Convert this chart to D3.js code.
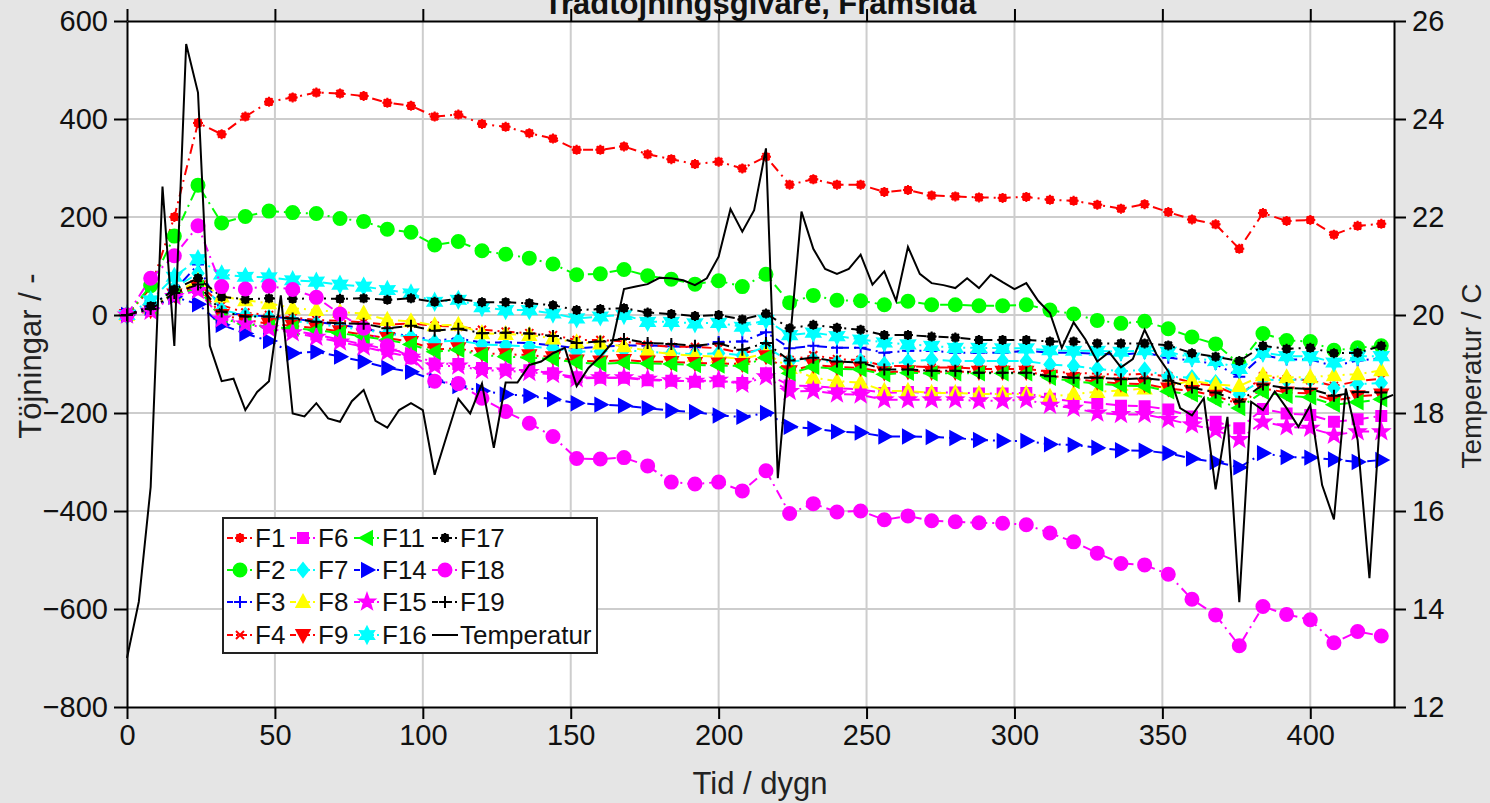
<!DOCTYPE html>
<html>
<head>
<meta charset="utf-8">
<script src="https://cdn.jsdelivr.net/npm/d3@7"></script>
<style>
body { margin: 0; background: #e5e5e5; }
svg { display: block; font-family: "Liberation Sans", Arial, sans-serif; }
</style>
</head>
<body>
<svg width="1490" height="803"></svg>
<script>
// mätdagar för töjningsgivarna
const days = [0,8,16,24,32,40,48,56,64,72,80,88,96,104,112,120,128,136,144,152,160,168,176,184,192,200,208,216,224,232,240,248,256,264,272,280,288,296,304,312,320,328,336,344,352,360,368,376,384,392,400,408,416,424];

const F1 = [0,55,200,392,369,405,435,444,454,452,447,433,427,405,409,390,384,371,360,337,337,344,328,318,308,313,299,323,266,277,266,266,251,255,244,242,240,239,241,235,233,225,217,226,210,195,185,135,208,192,194,164,182,186];
const F2 = [0,60,161,265,188,201,212,209,207,197,191,175,169,143,150,131,124,116,104,82,84,93,80,73,63,70,58,83,25,40,30,29,21,28,21,21,19,19,21,10,2,-11,-17,-13,-28,-45,-59,-100,-38,-52,-54,-72,-67,-63];
const F3 = [0,20,50,103,5,0,-3,-7,-14,-20,-27,-38,-42,-52,-48,-56,-56,-57,-62,-68,-65,-62,-62,-64,-66,-55,-54,-35,-68,-63,-67,-67,-77,-73,-73,-77,-77,-77,-73,-77,-77,-79,-81,-77,-87,-93,-100,-126,-82,-91,-91,-104,-93,-88];
const F4 = [0,12,45,65,20,5,0,-5,-10,-12,-15,-20,-17,-22,-24,-30,-34,-37,-41,-51,-51,-54,-61,-65,-65,-68,-78,-68,-92,-82,-90,-92,-104,-104,-107,-107,-110,-110,-110,-116,-118,-120,-122,-120,-125,-138,-145,-165,-125,-131,-133,-145,-135,-130];
const F6 = [0,10,42,55,-5,-15,-25,-32,-40,-50,-60,-70,-78,-99,-100,-108,-111,-113,-119,-127,-128,-128,-133,-134,-136,-135,-139,-119,-144,-145,-149,-152,-159,-157,-159,-158,-160,-160,-159,-171,-176,-180,-185,-186,-193,-207,-218,-231,-192,-201,-204,-218,-213,-206];
const F7 = [0,15,55,85,10,0,-5,-12,-18,-25,-30,-38,-45,-55,-52,-60,-62,-64,-68,-75,-74,-72,-75,-78,-80,-78,-82,-65,-95,-91,-97,-94,-101,-95,-91,-94,-94,-94,-94,-101,-104,-110,-115,-112,-126,-128,-138,-162,-132,-133,-131,-149,-141,-139];
const F8 = [0,15,45,70,38,30,24,14,10,6,3,-10,-13,-21,-20,-37,-39,-41,-48,-56,-58,-64,-73,-80,-83,-85,-90,-78,-108,-128,-135,-138,-155,-155,-159,-159,-161,-161,-161,-167,-161,-157,-154,-150,-145,-134,-142,-145,-123,-127,-127,-123,-121,-113];
const F9 = [0,10,42,58,0,-10,-18,-22,-27,-33,-40,-47,-55,-70,-68,-78,-80,-82,-86,-93,-95,-92,-95,-96,-98,-99,-100,-84,-115,-102,-106,-108,-117,-115,-116,-116,-116,-116,-116,-124,-130,-136,-140,-141,-150,-155,-165,-182,-150,-158,-160,-175,-166,-162];
const F11 = [0,10,40,55,-8,-18,-25,-27,-31,-37,-44,-51,-60,-75,-71,-82,-85,-87,-90,-97,-100,-97,-99,-100,-102,-103,-104,-87,-119,-106,-110,-111,-121,-118,-119,-119,-119,-119,-119,-128,-135,-140,-144,-145,-156,-162,-173,-190,-157,-165,-168,-183,-178,-172];
const F14 = [0,15,37,22,-20,-38,-53,-78,-75,-85,-95,-108,-116,-133,-145,-155,-162,-165,-172,-180,-183,-185,-190,-195,-198,-205,-208,-200,-228,-232,-238,-240,-248,-248,-249,-251,-255,-257,-257,-264,-265,-271,-276,-277,-282,-293,-300,-311,-282,-290,-291,-295,-300,-296];
const F15 = [0,8,38,50,-8,-18,-28,-36,-45,-55,-65,-76,-86,-104,-104,-113,-114,-117,-121,-130,-128,-128,-131,-134,-135,-133,-141,-126,-156,-155,-161,-163,-173,-173,-173,-173,-175,-175,-173,-184,-190,-200,-203,-203,-213,-224,-235,-254,-218,-228,-231,-245,-238,-238];
const F16 = [0,30,78,114,83,78,77,71,68,62,58,51,44,27,31,16,10,10,3,-7,-3,0,-14,-14,-17,-16,-24,-10,-41,-36,-43,-50,-56,-60,-63,-67,-67,-68,-68,-72,-73,-73,-75,-72,-75,-87,-94,-110,-77,-84,-84,-97,-84,-84];
const F17 = [0,18,52,75,37,32,34,33,34,33,34,31,34,27,33,26,26,24,20,10,12,14,5,2,-2,0,-9,3,-27,-20,-26,-30,-41,-41,-44,-46,-51,-51,-51,-54,-54,-58,-58,-58,-62,-78,-85,-94,-63,-69,-67,-78,-77,-63];
const F18 = [0,75,121,182,58,53,59,52,36,2,-27,-63,-86,-135,-140,-170,-197,-221,-248,-293,-294,-291,-308,-341,-345,-341,-359,-318,-405,-385,-402,-400,-418,-410,-420,-422,-424,-425,-428,-445,-463,-486,-507,-510,-529,-580,-612,-675,-595,-611,-622,-669,-646,-655];
const F19 = [0,12,45,62,7,-3,-3,-7,-14,-17,-18,-27,-22,-32,-28,-37,-36,-38,-43,-57,-54,-49,-57,-59,-63,-58,-71,-57,-93,-87,-95,-97,-111,-111,-114,-114,-118,-118,-118,-125,-128,-128,-131,-129,-134,-148,-158,-177,-142,-149,-151,-165,-157,-158];

// temperatur, var fjärde dag
const tempDays = [0,4,8,12,16,20,24,28,32,36,40,44,48,52,56,60,64,68,72,76,80,84,88,92,96,100,104,108,112,116,120,124,128,132,136,140,144,148,152,156,160,164,168,172,176,180,184,188,192,196,200,204,208,212,216,220,224,228,232,236,240,244,248,252,256,260,264,268,272,276,280,284,288,292,296,300,304,308,312,316,320,324,328,332,336,340,344,348,352,356,360,364,368,372,376,380,384,388,392,396,400,404,408,412,416,420,424,428];
const temperatur = [13.0,14.15,16.49,22.62,19.37,25.53,24.54,19.37,18.65,18.7,
  18.06,18.43,18.65,20.4,17.99,17.93,18.2,17.89,17.82,18.24,
  18.47,17.84,17.7,18.06,18.2,18.06,16.74,17.52,18.29,17.99,
  18.6,17.29,18.62,18.62,18.98,19.05,19.22,19.33,18.55,18.92,
  19.15,19.43,20.53,20.58,20.63,20.76,20.75,20.71,20.61,20.75,
  21.19,22.16,21.7,22.14,23.4,16.67,19.4,22.11,21.35,20.94,
  20.84,20.94,21.23,20.62,20.89,20.29,21.39,20.84,20.65,20.61,
  20.55,20.75,20.55,20.82,20.67,20.53,20.65,20.29,20.04,19.33,
  19.85,19.5,19.05,19.24,18.93,19.1,19.7,19.2,18.85,18.1,
  17.95,18.3,16.44,17.92,14.14,18.23,18.06,18.44,18.1,17.72,
  18.16,16.53,15.83,18.5,17.45,14.63,18.27,18.37];

const xTicks = [0,50,100,150,200,250,300,350,400];
const yTicks = [-800,-600,-400,-200,0,200,400,600];
const tTicks = [12,14,16,18,20,22,24,26];

const series = [
  {name: "F1",  values: F1,  color: "#ff0000", marker: "asterisk"},
  {name: "F2",  values: F2,  color: "#00ff00", marker: "circle"},
  {name: "F3",  values: F3,  color: "#0000ff", marker: "plus"},
  {name: "F4",  values: F4,  color: "#ff0000", marker: "cross"},
  {name: "F6",  values: F6,  color: "#ff00ff", marker: "square"},
  {name: "F7",  values: F7,  color: "#00ffff", marker: "diamond"},
  {name: "F8",  values: F8,  color: "#ffff00", marker: "up"},
  {name: "F9",  values: F9,  color: "#ff0000", marker: "down"},
  {name: "F11", values: F11, color: "#00ff00", marker: "left"},
  {name: "F14", values: F14, color: "#0000ff", marker: "right"},
  {name: "F15", values: F15, color: "#ff00ff", marker: "pentagram"},
  {name: "F16", values: F16, color: "#00ffff", marker: "hexagram"},
  {name: "F17", values: F17, color: "#000000", marker: "asterisk"},
  {name: "F18", values: F18, color: "#ff00ff", marker: "circle"},
  {name: "F19", values: F19, color: "#000000", marker: "plus"}
];

var svg = d3.select("svg"),
    pLeft = 127, pRight = 1394, pTop = 21, pBottom = 707;

var x = d3.scaleLinear().domain([0, 428.3]).range([pLeft, pRight]);
var y = d3.scaleLinear().domain([-800, 600]).range([pBottom, pTop]);
var yT = d3.scaleLinear().domain([12, 26]).range([pBottom, pTop]);

function starPath(n, ro, ri) {
  var pts = [];
  for (var i = 0; i < 2 * n; i++) {
    var r = i % 2 ? ri : ro, a = i * Math.PI / n;
    pts.push(r * Math.sin(a) + "," + (-r * Math.cos(a)));
  }
  return "M" + pts.join("L") + "Z";
}

var markers = {
  circle:    {d: "M6.5,0A6.5,6.5 0 1,1 -6.5,0A6.5,6.5 0 1,1 6.5,0Z", fill: true},
  square:    {d: "M-5,-5H5V5H-5Z", fill: true},
  diamond:   {d: "M0,-7L5.5,0L0,7L-5.5,0Z", fill: true},
  up:        {d: "M0,-7L6.5,5L-6.5,5Z", fill: true},
  down:      {d: "M0,7L6.5,-5L-6.5,-5Z", fill: true},
  left:      {d: "M-7,0L5,-6.5L5,6.5Z", fill: true},
  right:     {d: "M7,0L-5,-6.5L-5,6.5Z", fill: true},
  pentagram: {d: starPath(5, 8, 3.3), fill: true},
  hexagram:  {d: starPath(6, 8, 4.4), fill: true},
  plus:      {d: "M-6,0H6M0,-6V6", fill: false},
  cross:     {d: "M-4,-4L4,4M-4,4L4,-4", fill: false},
  asterisk:  {d: "M-5,0H5M0,-5V5M-3.6,-3.6L3.6,3.6M-3.6,3.6L3.6,-3.6M3.4,0A3.4,3.4 0 1,1 -3.4,0A3.4,3.4 0 1,1 3.4,0Z", fill: true}
};

function drawMarker(g, type, color, cx, cy) {
  var m = markers[type];
  g.append("path")
    .attr("d", m.d)
    .attr("transform", "translate(" + cx + "," + cy + ")")
    .attr("fill", m.fill ? color : "none")
    .attr("stroke", color)
    .attr("stroke-width", 2);
}

// plotyta
svg.append("rect")
  .attr("x", pLeft).attr("y", pTop)
  .attr("width", pRight - pLeft).attr("height", pBottom - pTop)
  .attr("fill", "#ffffff");

// rutnät
var grid = svg.append("g").attr("stroke", "#cdcdcd").attr("stroke-width", 2);
xTicks.filter(function(d) { return d > 0; }).forEach(function(d) {
  grid.append("line").attr("x1", x(d)).attr("x2", x(d)).attr("y1", pTop).attr("y2", pBottom);
});
yTicks.filter(function(d) { return d > -800 && d < 600; }).forEach(function(d) {
  grid.append("line").attr("x1", pLeft).attr("x2", pRight).attr("y1", y(d)).attr("y2", y(d));
});

// töjningsserier
var dashLine = d3.line().x(function(d) { return x(d[0]); }).y(function(d) { return y(d[1]); });
var plot = svg.append("g");
series.forEach(function(s) {
  var pts = days.map(function(d, i) { return [d, s.values[i]]; });
  plot.append("path")
    .attr("d", dashLine(pts))
    .attr("fill", "none")
    .attr("stroke", s.color)
    .attr("stroke-width", 2)
    .attr("stroke-dasharray", "10,5,2,5");
  var mg = plot.append("g");
  pts.forEach(function(p) { drawMarker(mg, s.marker, s.color, x(p[0]), y(p[1])); });
});

// temperatur på högra axeln
var tempLine = d3.line().x(function(d, i) { return x(tempDays[i]); }).y(function(d) { return yT(d); });
svg.append("path")
  .attr("d", tempLine(temperatur))
  .attr("fill", "none")
  .attr("stroke", "#000000")
  .attr("stroke-width", 2);

// axlar
function styleAxis(g) {
  g.attr("font-family", null).attr("font-size", null);
  g.select(".domain").attr("stroke", "#000").attr("stroke-width", 2);
  g.selectAll(".tick line").attr("stroke", "#000").attr("stroke-width", 2);
  g.selectAll(".tick text").attr("fill", "#111").style("font-size", "29px");
}
svg.append("g").attr("transform", "translate(0," + pBottom + ")")
  .call(d3.axisBottom(x).tickValues(xTicks).tickSize(12).tickSizeOuter(0).tickPadding(5))
  .call(styleAxis);
svg.append("g").attr("transform", "translate(0," + pTop + ")")
  .call(d3.axisTop(x).tickValues(xTicks).tickSize(12).tickSizeOuter(0).tickFormat(""))
  .call(styleAxis);
svg.append("g").attr("transform", "translate(" + pLeft + ",0)")
  .call(d3.axisLeft(y).tickValues(yTicks).tickSize(13).tickSizeOuter(0).tickPadding(6))
  .call(styleAxis);
svg.append("g").attr("transform", "translate(" + pRight + ",0)")
  .call(d3.axisRight(yT).tickValues(tTicks).tickSize(12).tickSizeOuter(0).tickPadding(6))
  .call(styleAxis);

// axeltexter och rubrik
svg.append("text").attr("x", 760).attr("y", 14).attr("text-anchor", "middle")
  .attr("font-size", 31).attr("font-weight", "bold").attr("fill", "#111")
  .text("Trädtöjningsgivare, Framsida");
svg.append("text").attr("x", 760).attr("y", 794).attr("text-anchor", "middle")
  .attr("font-size", 31).attr("fill", "#222").text("Tid / dygn");
svg.append("text").attr("transform", "translate(41,356) rotate(-90)").attr("text-anchor", "middle")
  .attr("font-size", 31).attr("fill", "#222").text("Töjningar / -");
svg.append("text").attr("transform", "translate(1481,376) rotate(-90)").attr("text-anchor", "middle")
  .attr("font-size", 28).attr("fill", "#222").text("Temperatur / C");

// legend
var legend = svg.append("g");
legend.append("rect").attr("x", 223).attr("y", 518).attr("width", 374).attr("height", 135)
  .attr("fill", "#fff").attr("stroke", "#222").attr("stroke-width", 2);
var colX = [227, 290, 354, 432], rowY = [538, 570, 602, 635];
var entries = series.concat([{name: "Temperatur", color: "#000000", marker: null}]);
entries.forEach(function(s, i) {
  var cx = colX[Math.floor(i / 4)], cy = rowY[i % 4];
  legend.append("line").attr("x1", cx).attr("x2", cx + 26).attr("y1", cy).attr("y2", cy)
    .attr("stroke", s.color).attr("stroke-width", 2)
    .attr("stroke-dasharray", s.marker ? "6,3,2,3" : null);
  if (s.marker) drawMarker(legend, s.marker, s.color, cx + 13, cy);
  legend.append("text").attr("x", cx + 28).attr("y", cy).attr("dy", "0.36em")
    .attr("font-size", 26).attr("fill", "#111").text(s.name);
});
</script>
</body>
</html>
